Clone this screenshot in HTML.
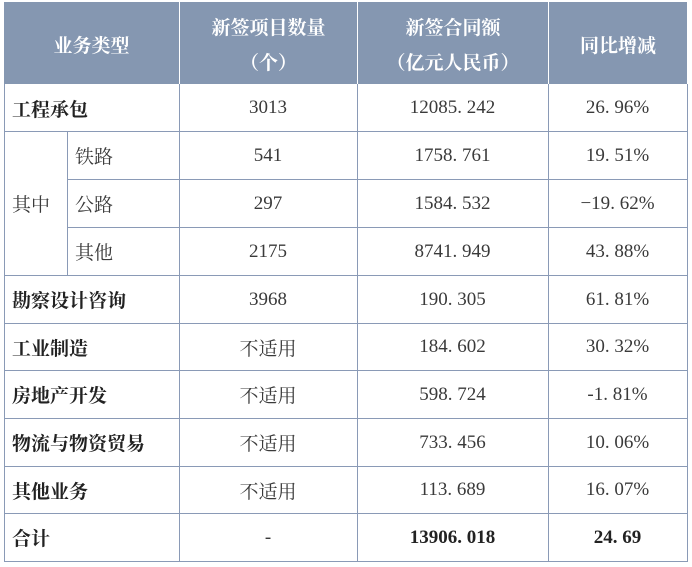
<!DOCTYPE html>
<html>
<head>
<meta charset="utf-8">
<style>
html,body{margin:0;padding:0;background:#fff;}
body{width:692px;height:567px;position:relative;overflow:hidden;
font-family:"Liberation Serif","Noto Serif CJK SC",serif;}
.hdr{position:absolute;left:4px;top:2px;width:683px;height:82px;background:#8597B1;}
.vw{position:absolute;top:2px;height:82px;width:1px;background:#fff;}
.h{position:absolute;height:1px;background:#8A9AB6;}
.v{position:absolute;width:1px;background:#8A9AB6;}
.c{position:absolute;display:flex;align-items:center;justify-content:center;font-size:19px;color:#3a3a3a;padding-top:1px;box-sizing:border-box;white-space:nowrap;}
.l{justify-content:flex-start;padding-left:8px;}
.b{font-weight:700;color:#222;}
.ht{position:absolute;color:#fff;font-weight:700;font-size:19px;text-align:center;line-height:35px;display:flex;flex-direction:column;align-items:center;justify-content:center;padding-top:6px;box-sizing:border-box;}
.p{letter-spacing:0.25em;}
</style>
</head>
<body>
<div class="hdr"></div>
<div class="vw" style="left:179px"></div>
<div class="vw" style="left:357px"></div>
<div class="vw" style="left:548px"></div>
<div class="ht" style="left:4px;top:2px;width:175px;height:82px;">业务类型</div>
<div class="ht" style="left:180px;top:2px;width:177px;height:82px;"><div>新签项目数量</div><div>（个）</div></div>
<div class="ht" style="left:358px;top:2px;width:190px;height:82px;"><div>新签合同额</div><div>（亿元人民币）</div></div>
<div class="ht" style="left:549px;top:2px;width:138px;height:82px;">同比增减</div>

<!-- horizontal lines -->
<div class="h" style="left:4px;top:131px;width:684px"></div>
<div class="h" style="left:67px;top:179px;width:621px"></div>
<div class="h" style="left:67px;top:227px;width:621px"></div>
<div class="h" style="left:4px;top:275px;width:684px"></div>
<div class="h" style="left:4px;top:323px;width:684px"></div>
<div class="h" style="left:4px;top:370px;width:684px"></div>
<div class="h" style="left:4px;top:418px;width:684px"></div>
<div class="h" style="left:4px;top:466px;width:684px"></div>
<div class="h" style="left:4px;top:513px;width:684px"></div>
<div class="h" style="left:4px;top:561px;width:684px"></div>
<!-- vertical lines -->
<div class="v" style="left:4px;top:84px;height:478px"></div>
<div class="v" style="left:179px;top:84px;height:478px"></div>
<div class="v" style="left:357px;top:84px;height:478px"></div>
<div class="v" style="left:548px;top:84px;height:478px"></div>
<div class="v" style="left:687px;top:84px;height:478px"></div>
<div class="v" style="left:67px;top:131px;height:144px"></div>

<!-- row 1 -->
<div class="c l b" style="left:4px;top:84px;width:175px;height:47px">工程承包</div>
<div class="c" style="left:179px;top:84px;width:178px;height:47px">3013</div>
<div class="c" style="left:357px;top:84px;width:191px;height:47px">12085<span class="p">.</span>242</div>
<div class="c" style="left:548px;top:84px;width:139px;height:47px">26<span class="p">.</span>96%</div>

<!-- 其中 -->
<div class="c l" style="left:4px;top:131px;width:63px;height:144px">其中</div>
<div class="c l" style="left:67px;top:131px;width:112px;height:48px">铁路</div>
<div class="c" style="left:179px;top:131px;width:178px;height:48px">541</div>
<div class="c" style="left:357px;top:131px;width:191px;height:48px">1758<span class="p">.</span>761</div>
<div class="c" style="left:548px;top:131px;width:139px;height:48px">19<span class="p">.</span>51%</div>

<div class="c l" style="left:67px;top:179px;width:112px;height:48px">公路</div>
<div class="c" style="left:179px;top:179px;width:178px;height:48px">297</div>
<div class="c" style="left:357px;top:179px;width:191px;height:48px">1584<span class="p">.</span>532</div>
<div class="c" style="left:548px;top:179px;width:139px;height:48px">−19<span class="p">.</span>62%</div>

<div class="c l" style="left:67px;top:227px;width:112px;height:48px">其他</div>
<div class="c" style="left:179px;top:227px;width:178px;height:48px">2175</div>
<div class="c" style="left:357px;top:227px;width:191px;height:48px">8741<span class="p">.</span>949</div>
<div class="c" style="left:548px;top:227px;width:139px;height:48px">43<span class="p">.</span>88%</div>

<!-- rows -->
<div class="c l b" style="left:4px;top:275px;width:175px;height:48px">勘察设计咨询</div>
<div class="c" style="left:179px;top:275px;width:178px;height:48px">3968</div>
<div class="c" style="left:357px;top:275px;width:191px;height:48px">190<span class="p">.</span>305</div>
<div class="c" style="left:548px;top:275px;width:139px;height:48px">61<span class="p">.</span>81%</div>

<div class="c l b" style="left:4px;top:323px;width:175px;height:47px">工业制造</div>
<div class="c" style="left:179px;top:323px;width:178px;height:47px">不适用</div>
<div class="c" style="left:357px;top:323px;width:191px;height:47px">184<span class="p">.</span>602</div>
<div class="c" style="left:548px;top:323px;width:139px;height:47px">30<span class="p">.</span>32%</div>

<div class="c l b" style="left:4px;top:370px;width:175px;height:48px">房地产开发</div>
<div class="c" style="left:179px;top:370px;width:178px;height:48px">不适用</div>
<div class="c" style="left:357px;top:370px;width:191px;height:48px">598<span class="p">.</span>724</div>
<div class="c" style="left:548px;top:370px;width:139px;height:48px">-1<span class="p">.</span>81%</div>

<div class="c l b" style="left:4px;top:418px;width:175px;height:48px">物流与物资贸易</div>
<div class="c" style="left:179px;top:418px;width:178px;height:48px">不适用</div>
<div class="c" style="left:357px;top:418px;width:191px;height:48px">733<span class="p">.</span>456</div>
<div class="c" style="left:548px;top:418px;width:139px;height:48px">10<span class="p">.</span>06%</div>

<div class="c l b" style="left:4px;top:466px;width:175px;height:47px">其他业务</div>
<div class="c" style="left:179px;top:466px;width:178px;height:47px">不适用</div>
<div class="c" style="left:357px;top:466px;width:191px;height:47px">113<span class="p">.</span>689</div>
<div class="c" style="left:548px;top:466px;width:139px;height:47px">16<span class="p">.</span>07%</div>

<div class="c l b" style="left:4px;top:513px;width:175px;height:48px">合计</div>
<div class="c" style="left:179px;top:513px;width:178px;height:48px">-</div>
<div class="c b" style="left:357px;top:513px;width:191px;height:48px">13906<span class="p">.</span>018</div>
<div class="c b" style="left:548px;top:513px;width:139px;height:48px">24<span class="p">.</span>69</div>
</body>
</html>
